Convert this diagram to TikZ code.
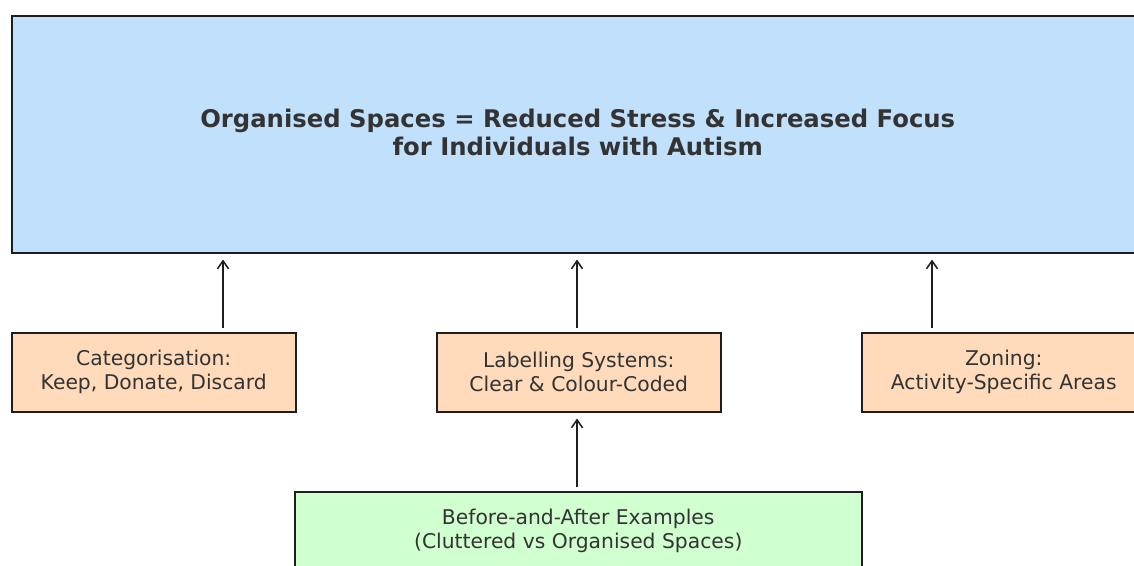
\documentclass[tikz,border=0pt]{standalone}
\usepackage{fontspec}
\setmainfont{DejaVu Sans}
\usetikzlibrary{arrows.meta}
\definecolor{topblue}{RGB}{193,224,252}
\definecolor{peach}{RGB}{255,218,187}
\definecolor{mint}{RGB}{208,255,208}
\definecolor{txt}{RGB}{51,51,51}
\definecolor{edge}{RGB}{30,30,30}
\tikzset{
  box/.style={draw=edge, line width=1.5pt, inner sep=0pt, text=txt, align=center, anchor=north west},
  arr/.style={-{Straight Barb[length=8pt,width=11pt,line width=1.5pt]}, line width=1.6pt, draw=edge},
  bodyfont/.style={font=\fontsize{20.3}{24}\selectfont},
}
\begin{document}
\begin{tikzpicture}[x=1pt,y=-1pt]
\useasboundingbox (0,0) rectangle (1134,565);
\fill[white] (0,0) rectangle (1134,565);
\node[box, fill=topblue, minimum width=1132pt, minimum height=237pt] (top) at (11,15) {};
\node[text=txt, align=center, inner sep=0pt, font=\fontsize{24.3}{28}\selectfont\bfseries] (title) at ([yshift=2pt]top.center) {Organised Spaces = Reduced Stress \& Increased Focus\\for Individuals with Autism};
\node[box, fill=peach, minimum width=284pt, minimum height=79pt, bodyfont] (cat) at (11,332) {Categorisation:\\Keep, Donate, Discard};
\node[box, fill=peach, minimum width=284pt, minimum height=79pt, bodyfont] (lab) at (436,332) {Labelling Systems:\\Clear \& Colour-Coded};
\node[box, fill=peach, minimum width=284pt, minimum height=79pt, bodyfont] (zon) at (861,332) {Zoning:\\Activity-Specific Areas};
\node[box, fill=mint, minimum width=567pt, minimum height=79pt, bodyfont] (ex) at (294,491) {Before-and-After Examples\\(Cluttered vs Organised Spaces)};
\coordinate (xa) at (223,0);
\coordinate (xb) at (577,0);
\coordinate (xc) at (932,0);
\draw[arr, shorten <=4pt, shorten >=6pt] (cat.north -| xa) -- (top.south -| xa);
\draw[arr, shorten <=4pt, shorten >=6pt] (lab.north -| xb) -- (top.south -| xb);
\draw[arr, shorten <=4pt, shorten >=6pt] (zon.north -| xc) -- (top.south -| xc);
\draw[arr, shorten <=4pt, shorten >=6pt] (ex.north -| xb) -- (lab.south -| xb);
\end{tikzpicture}
\end{document}
